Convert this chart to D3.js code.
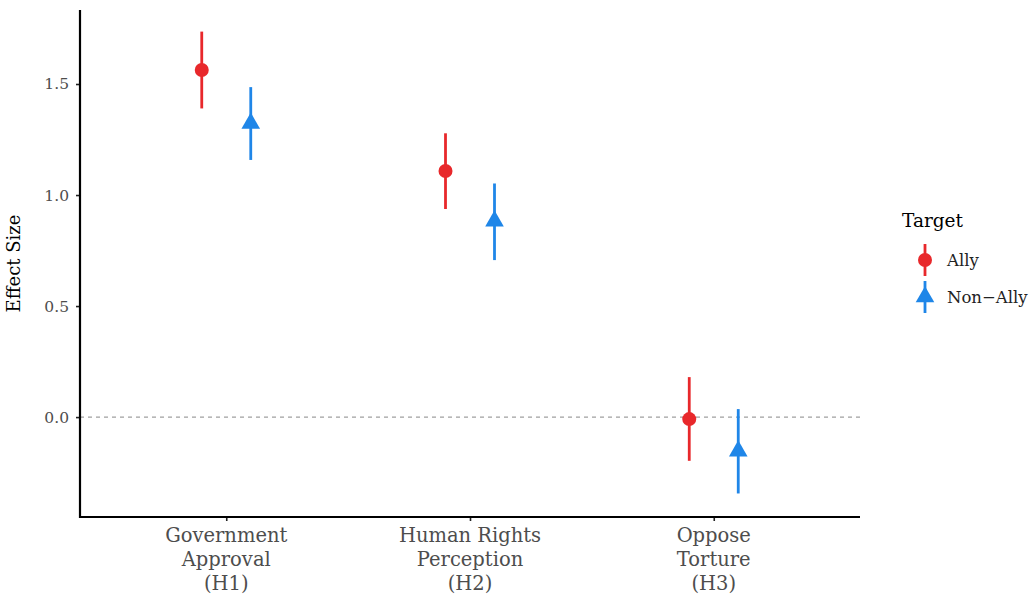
<!DOCTYPE html>
<html><head><meta charset="utf-8">
<script src="https://cdn.jsdelivr.net/npm/d3@7"></script>
<style>body{margin:0;background:#fff}svg{display:block}text{font-family:"DejaVu Serif",serif}</style>
</head><body>
<svg id="c" width="1032" height="595"></svg>
<script>
const categories = ["Government\nApproval\n(H1)", "Human Rights\nPerception\n(H2)", "Oppose\nTorture\n(H3)"];
const groups = ["Ally", "Non\u2212Ally"];
const allyEst = [1.563, 1.108, -0.009];
const allyLo = [1.390, 0.937, -0.197];
const allyHi = [1.736, 1.278, 0.180];
const nonEst = [1.323, 0.883, -0.153];
const nonLo = [1.158, 0.707, -0.344];
const nonHi = [1.486, 1.052, 0.036];
const yTicks = [0, 0.5, 1.0, 1.5];
const colors = ["#E8282B", "#1F86E8"];

const svg = d3.select("#c");
const L = 80, R = 860, T = 10, B = 517;
const x = d3.scalePoint().domain(categories).range([L, R]).padding(0.6);
const y = d3.scaleLinear().domain([-0.45, 1.8333]).range([B, T]);
const dodge = 24.5;

// zero line
svg.append("line").attr("x1", L).attr("x2", R).attr("y1", y(0)).attr("y2", y(0))
  .attr("stroke", "#a0a0a0").attr("stroke-width", 1.2).attr("stroke-dasharray", "4,4");

// y axis
const ya = svg.append("g").attr("transform", `translate(${L},0)`)
  .call(d3.axisLeft(y).tickValues(yTicks).tickFormat(d3.format(".1f")).tickSize(4).tickPadding(7));
ya.select(".domain").remove();
ya.selectAll(".tick line").attr("stroke", "#222").attr("stroke-width", 1.6);
ya.selectAll(".tick text").attr("fill", "#4d4d4d").style("font-size", "15.5px").style("font-family", "DejaVu Serif");
svg.append("line").attr("x1", L).attr("x2", L).attr("y1", T).attr("y2", B + 1).attr("stroke", "#000").attr("stroke-width", 2.2);

// x axis
const xa = svg.append("g").attr("transform", `translate(0,${B})`)
  .call(d3.axisBottom(x).tickSize(4).tickFormat(""));
xa.select(".domain").remove();
xa.selectAll(".tick line").attr("stroke", "#222").attr("stroke-width", 1.6);
svg.append("line").attr("x1", L - 1).attr("x2", R).attr("y1", B).attr("y2", B).attr("stroke", "#000").attr("stroke-width", 2.2);
categories.forEach(c => {
  const t = svg.append("text").attr("text-anchor", "middle").attr("fill", "#4d4d4d").style("font-size", "19.5px");
  c.split("\n").forEach((ln, i) => {
    t.append("tspan").attr("x", x(c)).attr("y", 542 + i * 24).text(ln);
  });
});

// y label
svg.append("text").attr("transform", `translate(20,${(T + B) / 2}) rotate(-90)`)
  .attr("text-anchor", "middle").style("font-size", "18px").attr("fill", "#000").text("Effect Size");

const tri = d3.symbol().type(d3.symbolTriangle).size(150);
const series = [
  {est: allyEst, lo: allyLo, hi: allyHi, off: -dodge, col: colors[0], shape: "circle"},
  {est: nonEst, lo: nonLo, hi: nonHi, off: dodge, col: colors[1], shape: "tri"}
];
series.forEach(s => {
  const g = svg.append("g");
  g.selectAll("line").data(categories).join("line")
    .attr("x1", (d) => x(d) + s.off).attr("x2", (d) => x(d) + s.off)
    .attr("y1", (d, i) => y(s.lo[i])).attr("y2", (d, i) => y(s.hi[i]))
    .attr("stroke", s.col).attr("stroke-width", 2.8);
  if (s.shape === "circle") {
    g.selectAll("circle").data(categories).join("circle")
      .attr("cx", (d) => x(d) + s.off).attr("cy", (d, i) => y(s.est[i])).attr("r", 7).attr("fill", s.col);
  } else {
    g.selectAll("path").data(categories).join("path")
      .attr("transform", (d, i) => `translate(${x(d) + s.off},${y(s.est[i])})`).attr("d", tri).attr("fill", s.col);
  }
});

// legend
svg.append("text").attr("x", 902).attr("y", 227).style("font-size", "18.5px").attr("fill", "#000").text("Target");
groups.forEach((gname, i) => {
  const cy = 260 + i * 37, cx = 925;
  svg.append("line").attr("x1", cx).attr("x2", cx).attr("y1", cy - 16).attr("y2", cy + 16)
    .attr("stroke", colors[i]).attr("stroke-width", 2.8);
  if (i === 0) svg.append("circle").attr("cx", cx).attr("cy", cy).attr("r", 7).attr("fill", colors[i]);
  else svg.append("path").attr("transform", `translate(${cx},${cy})`).attr("d", tri).attr("fill", colors[i]);
  svg.append("text").attr("x", 947).attr("y", cy + 6).style("font-size", "16.5px").attr("fill", "#222").text(gname);
});
</script>
</body></html>
